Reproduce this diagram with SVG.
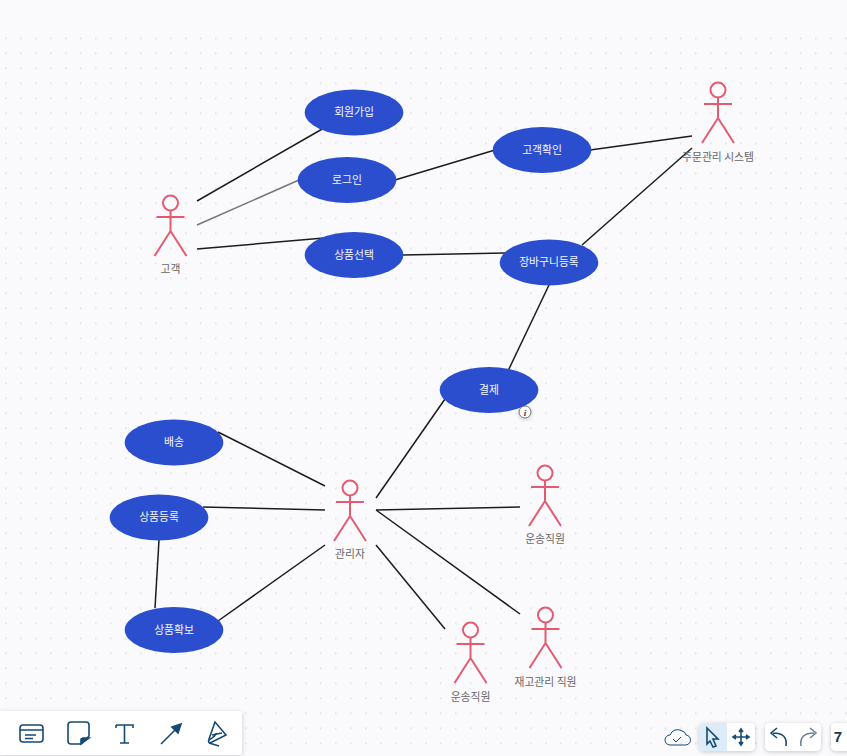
<svg xmlns="http://www.w3.org/2000/svg" width="847" height="756" viewBox="0 0 847 756">
<style>
text{font-family:"Noto Sans CJK KR","Noto Sans",sans-serif;text-anchor:middle}
.u ellipse{fill:#2b4ecf}
.u text{fill:#f4f6ff;font-size:10.800px}
.a circle{fill:#fcfcff;stroke:#e65a70;stroke-width:2}
.fig{fill:none;stroke:#e65a70;stroke-width:2}
.a text{fill:#666;font-size:10.800px}
#connectors line{stroke:#1c1c1c;stroke-width:1.500}
.ic{fill:none;stroke:#164a72;stroke-width:1.600}
.tb{fill:#fff;filter:url(#sh)}
</style>
<defs>
<pattern id="dots" width="15" height="15" patternUnits="userSpaceOnUse" x="5" y="7.500"><circle cx="0.500" cy="0.500" r="1.200" fill="#e0e0e8"/></pattern>
<filter id="sh" x="-10%" y="-30%" width="120%" height="160%"><feDropShadow dx="0" dy="1" stdDeviation="2" flood-color="#000" flood-opacity=".2"/></filter>
<path id="actor" class="fig" d="M0 7.500V28M-14 14H14M-16 53L0 28L16 53"/>
</defs>
<rect width="847" height="756" fill="#fafafd"/>
<rect y="30" width="847" height="726" fill="url(#dots)"/>
<g id="connectors">
<line x1="197" y1="201" x2="324" y2="128"/>
<line x1="197" y1="225" x2="299" y2="180" style="stroke:#777"/>
<line x1="197" y1="249" x2="324" y2="238"/>
<line x1="395" y1="180" x2="495" y2="150"/>
<line x1="590" y1="150" x2="692" y2="136"/>
<line x1="403" y1="255" x2="505" y2="253"/>
<line x1="582" y1="245" x2="692" y2="148"/>
<line x1="549" y1="285" x2="508" y2="371"/>
<line x1="445" y1="399" x2="376" y2="498"/>
<line x1="218" y1="432" x2="325" y2="486"/>
<line x1="203" y1="507" x2="325" y2="510"/>
<line x1="159" y1="540" x2="155" y2="608"/>
<line x1="218" y1="621" x2="325" y2="545"/>
<line x1="376" y1="510" x2="520" y2="507"/>
<line x1="376" y1="510" x2="520" y2="614"/>
<line x1="376" y1="545" x2="445" y2="629"/>
</g>
<g id="n1" class="u"><ellipse cx="354" cy="112.500" rx="49.300" ry="23"/><text x="354" y="115.500">회원가입</text></g>
<g id="n2" class="u"><ellipse cx="347" cy="180" rx="49.300" ry="23"/><text x="347" y="183.500">로그인</text></g>
<g id="n3" class="u"><ellipse cx="354" cy="255" rx="49.300" ry="23"/><text x="354" y="258.500">상품선택</text></g>
<g id="n4" class="u"><ellipse cx="542" cy="150" rx="49.300" ry="23"/><text x="542" y="153.500">고객확인</text></g>
<g id="n5" class="u"><ellipse cx="549" cy="262.500" rx="49.300" ry="23"/><text x="549" y="265.500">장바구니등록</text></g>
<g id="n6" class="u"><ellipse cx="489" cy="390" rx="49.300" ry="23"/><text x="489" y="393.500">결제</text></g>
<g id="n7" class="u"><ellipse cx="174" cy="442.500" rx="49.300" ry="23"/><text x="174" y="446">배송</text></g>
<g id="n8" class="u"><ellipse cx="159" cy="517.500" rx="49.300" ry="23"/><text x="159" y="521">상품등록</text></g>
<g id="n9" class="u"><ellipse cx="174" cy="630" rx="49.300" ry="23"/><text x="174" y="633.500">상품확보</text></g>
<g id="a1" class="a" transform="translate(170.500 203)"><circle r="7.500"/><use href="#actor"/><text y="70">고객</text></g>
<g id="a2" class="a" transform="translate(350 488)"><circle r="7.500"/><use href="#actor"/><text y="70">관리자</text></g>
<g id="a3" class="a" transform="translate(545 473)"><circle r="7.500"/><use href="#actor"/><text y="70">운송직원</text></g>
<g id="a4" class="a" transform="translate(470.500 630)"><circle r="7.500"/><use href="#actor"/><text y="71">운송직원</text></g>
<g id="a5" class="a" transform="translate(545.500 615)"><circle r="7.500"/><use href="#actor"/><text y="71">재고관리 직원</text></g>
<g id="a6" class="a" transform="translate(718 90)"><circle r="7.500"/><use href="#actor"/><text y="70.500">주문관리 시스템</text></g>
<g id="info"><circle cx="525" cy="412" r="6" fill="#fff" stroke="#555" stroke-width=".8" style="filter:url(#sh)"/><text x="525" y="415.500" style="font:italic 700 9px 'Liberation Serif',serif;fill:#333">i</text></g>
<g id="toolbar">
<path class="tb" d="M0 711H239a3 3 0 0 1 3 3V752a3 3 0 0 1-3 3H0z"/>
<g class="ic">
<rect x="20" y="725" width="23" height="17" rx="3"/><path d="M20 730H43M25 735H36M25 738.500H33"/>
<path d="M71 722H86a3 3 0 0 1 3 3V736L81 744H71a3 3 0 0 1-3-3V725a3 3 0 0 1 3-3z"/><path d="M81 744V739a3 3 0 0 1 2-1H89z" fill="#164a72"/>
<path d="M116 725V728M116 725H133V728M124.500 725V743M120 743H129"/>
<path d="M161 744L178 727"/><path d="M172 727L181 724L178 733z" fill="#164a72"/>
<path d="M215 722L209 739Q207 744 212 742L226 735zM209 740Q216 736 216 733M209 743L219 746M212 735L222 733"/>
</g>
<g id="status" class="ic"><path d="M670 745a5 5 0 0 1 0-10 8 8 0 0 1 12-4 5 5 0 0 1 4 4 5 5 0 0 1-1 10zM673 739L676 742L681 737" stroke-width="1"/></g>
<rect class="tb" x="699" y="723" width="56" height="28" rx="5"/>
<path d="M704 723H727V751H704a5 5 0 0 1-5-5V728a5 5 0 0 1 5-5z" fill="#dcecf8"/>
<path class="ic" d="M707 728L718 739H713L716 746L713 747L710 741L707 744z"/>
<path class="ic" d="M741 730V744M734 737H748M739 732L741 729L743 732M739 742L741 745L743 742M736 735L733 737L736 739M746 735L749 737L746 739"/>
<rect class="tb" x="765" y="723" width="56" height="28" rx="5"/>
<path class="ic" d="M786 746Q788 733 773 733M777 728L771 733L777 738"/>
<path class="ic" style="stroke:#6c8391" d="M801 746Q799 733 814 733M810 728L816 733L810 738"/>
<rect class="tb" x="831" y="723" width="30" height="28" rx="5"/>
<text x="838" y="742" style="font:700 15px 'Liberation Sans',sans-serif;fill:#163a52">7</text>
</g>
</svg>
